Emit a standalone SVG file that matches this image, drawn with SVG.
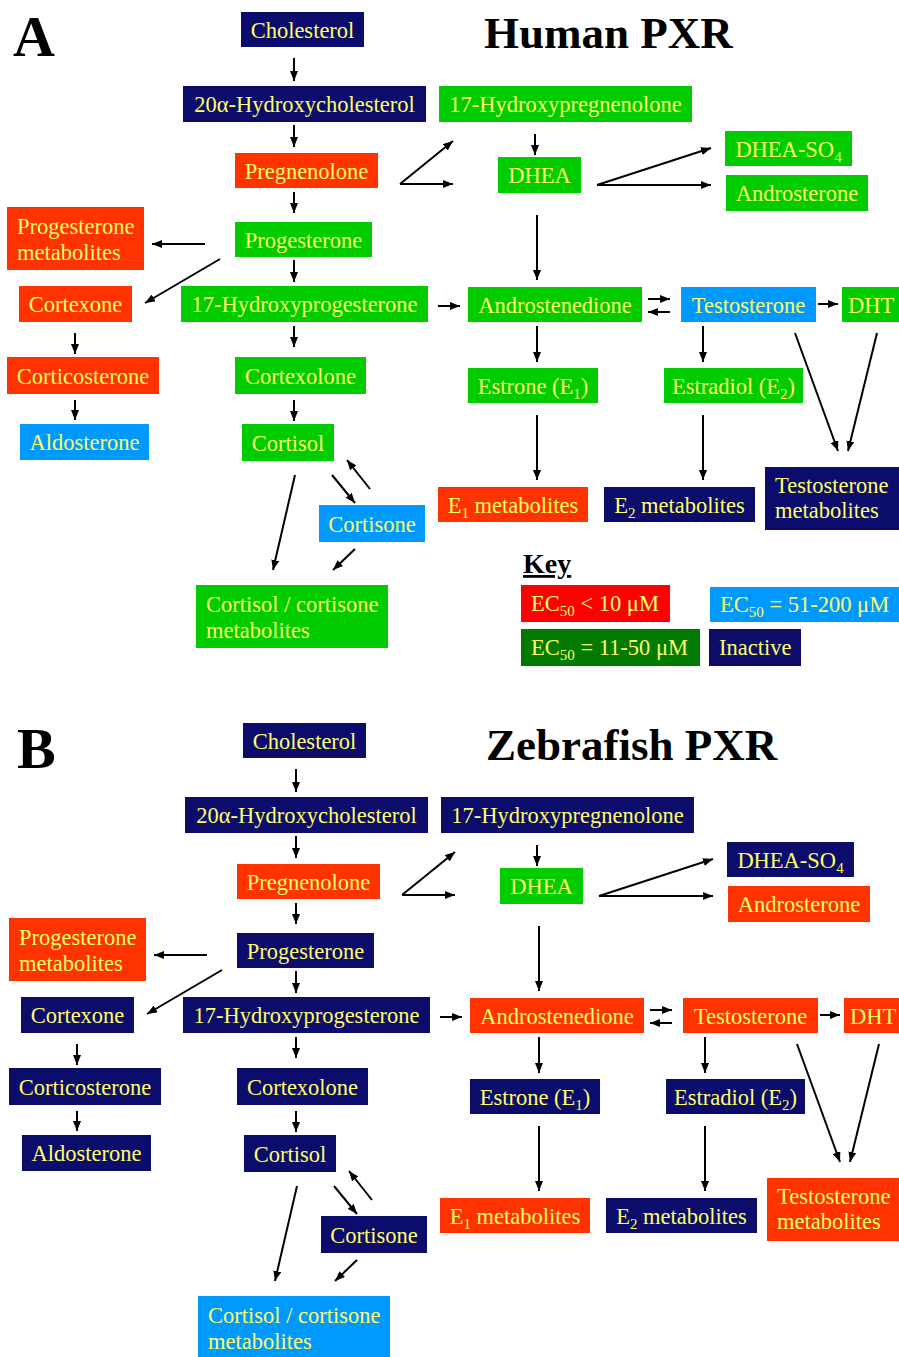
<svg xmlns="http://www.w3.org/2000/svg" width="899" height="1357" viewBox="0 0 899 1357">
<style>
.navy{fill:#0c0c6c}.orange{fill:#ff3300}.green{fill:#00cc00}.blue{fill:#0099ff}.red{fill:#ff0000}.dgreen{fill:#007a00}
text{font-family:"Liberation Serif","Times New Roman",serif}
.t{font-size:22.5px;fill:#ffff66}
.m{text-anchor:middle}
.h{font-weight:bold;fill:#000}
.c line{stroke:#000;stroke-width:2;fill:none;marker-end:url(#ah)}
</style>
<defs>
<marker id="ah" markerUnits="userSpaceOnUse" markerWidth="10" markerHeight="8" refX="10" refY="4" orient="auto"><path d="M0,0 L10,4 L0,8 z" fill="#000"/></marker>
</defs>
<rect width="899" height="1357" fill="#fff"/>

<g id="panelA">
<text class="h" x="13" y="56" font-size="58">A</text>
<text class="h" x="484" y="48" font-size="45">Human PXR</text>
<g class="c" id="connectorsA">
<line x1="294" y1="58" x2="294" y2="81"/>
<line x1="294" y1="125" x2="294" y2="147"/>
<line x1="294" y1="192" x2="294" y2="213"/>
<line x1="294" y1="260" x2="294" y2="282"/>
<line x1="205" y1="244" x2="152" y2="244"/>
<line x1="220" y1="259" x2="145" y2="303"/>
<line x1="400" y1="184" x2="453" y2="141"/>
<line x1="400" y1="184" x2="453" y2="184"/>
<line x1="535" y1="134" x2="535" y2="155"/>
<line x1="597" y1="185" x2="711" y2="148"/>
<line x1="597" y1="185" x2="711" y2="185"/>
<line x1="537" y1="215" x2="537" y2="280"/>
<line x1="438" y1="306" x2="460" y2="306"/>
<line x1="648" y1="299" x2="670" y2="299"/>
<line x1="670" y1="312" x2="648" y2="312"/>
<line x1="818" y1="304" x2="838" y2="304"/>
<line x1="75" y1="333" x2="75" y2="354"/>
<line x1="75" y1="400" x2="75" y2="420"/>
<line x1="294" y1="326" x2="294" y2="347"/>
<line x1="294" y1="400" x2="294" y2="421"/>
<line x1="295" y1="475" x2="273" y2="570"/>
<line x1="332" y1="475" x2="355" y2="503"/>
<line x1="370" y1="489" x2="347" y2="460"/>
<line x1="355" y1="549" x2="333" y2="570"/>
<line x1="537" y1="326" x2="537" y2="362"/>
<line x1="703" y1="326" x2="703" y2="362"/>
<line x1="537" y1="415" x2="537" y2="480"/>
<line x1="703" y1="415" x2="703" y2="480"/>
<line x1="795" y1="333" x2="838" y2="451"/>
<line x1="877" y1="333" x2="848" y2="451"/>
</g>
<g id="a-cholesterol"><rect class="navy" x="241" y="12" width="123" height="35"/><text class="t m" x="302.5" y="37.5">Cholesterol</text></g>
<g id="a-hydroxycholesterol"><rect class="navy" x="183" y="86" width="243" height="36"/><text class="t m" x="304.5" y="112">20α-Hydroxycholesterol</text></g>
<g id="a-hydroxypregnenolone"><rect class="green" x="439" y="86" width="253" height="36"/><text class="t m" x="565.5" y="112">17-Hydroxypregnenolone</text></g>
<g id="a-pregnenolone"><rect class="orange" x="235" y="153" width="143" height="35"/><text class="t m" x="306.5" y="178.5">Pregnenolone</text></g>
<g id="a-dhea"><rect class="green" x="498" y="157" width="83" height="36"/><text class="t m" x="539.5" y="183">DHEA</text></g>
<g id="a-dheaso4"><rect class="green" x="725" y="131" width="127" height="35"/><text class="t m" x="788.5" y="156.5">DHEA-SO<tspan font-size="15" dy="5">4</tspan></text></g>
<g id="a-androsterone"><rect class="green" x="726" y="175" width="142" height="36"/><text class="t m" x="797" y="201">Androsterone</text></g>
<g id="a-progmet"><rect class="orange" x="7" y="207" width="137" height="63"/><text class="t" x="17" y="234">Progesterone</text><text class="t" x="17" y="260">metabolites</text></g>
<g id="a-progesterone"><rect class="green" x="235" y="222" width="137" height="35"/><text class="t m" x="303.5" y="247.5">Progesterone</text></g>
<g id="a-cortexone"><rect class="orange" x="19" y="286" width="113" height="36"/><text class="t m" x="75.5" y="312">Cortexone</text></g>
<g id="a-ohprogesterone"><rect class="green" x="181" y="286" width="247" height="36"/><text class="t m" x="304.5" y="312">17-Hydroxyprogesterone</text></g>
<g id="a-androstenedione"><rect class="green" x="468" y="287" width="174" height="35"/><text class="t m" x="555" y="312.5">Androstenedione</text></g>
<g id="a-testosterone"><rect class="blue" x="681" y="287" width="135" height="35"/><text class="t m" x="748.5" y="312.5">Testosterone</text></g>
<g id="a-dht"><rect class="green" x="842" y="287" width="60" height="35"/><text class="t" x="848" y="312.5">DHT</text></g>
<g id="a-corticosterone"><rect class="orange" x="7" y="357" width="152" height="37"/><text class="t m" x="83" y="383.5">Corticosterone</text></g>
<g id="a-cortexolone"><rect class="green" x="235" y="357" width="131" height="37"/><text class="t m" x="300.5" y="383.5">Cortexolone</text></g>
<g id="a-estrone"><rect class="green" x="468" y="368" width="130" height="35"/><text class="t m" x="533" y="393.5">Estrone (E<tspan font-size="15" dy="5">1</tspan><tspan dy="-5">)</tspan></text></g>
<g id="a-estradiol"><rect class="green" x="664" y="368" width="139" height="35"/><text class="t m" x="733.5" y="393.5">Estradiol (E<tspan font-size="15" dy="5">2</tspan><tspan dy="-5">)</tspan></text></g>
<g id="a-aldosterone"><rect class="blue" x="20" y="424" width="129" height="36"/><text class="t m" x="84.5" y="450">Aldosterone</text></g>
<g id="a-cortisol"><rect class="green" x="242" y="424" width="92" height="37"/><text class="t m" x="288" y="450.5">Cortisol</text></g>
<g id="a-e1met"><rect class="orange" x="438" y="487" width="150" height="35"/><text class="t m" x="513" y="512.5">E<tspan font-size="15" dy="5">1</tspan><tspan dy="-5"> metabolites</tspan></text></g>
<g id="a-e2met"><rect class="navy" x="604" y="487" width="151" height="35"/><text class="t m" x="679.5" y="512.5">E<tspan font-size="15" dy="5">2</tspan><tspan dy="-5"> metabolites</tspan></text></g>
<g id="a-testmet"><rect class="navy" x="765" y="467" width="140" height="63"/><text class="t" x="775" y="493">Testosterone</text><text class="t" x="775" y="518">metabolites</text></g>
<g id="a-cortisone"><rect class="blue" x="319" y="505" width="106" height="37"/><text class="t m" x="372" y="531.5">Cortisone</text></g>
<g id="a-cortmet"><rect class="green" x="196" y="585" width="192" height="63"/><text class="t" x="206" y="612">Cortisol / cortisone</text><text class="t" x="206" y="638">metabolites</text></g>
<g id="key">
<text class="h" x="523" y="573" font-size="28" text-decoration="underline">Key</text>
<g id="key-red"><rect class="red" x="521" y="585" width="149" height="37"/><text class="t" x="531" y="611">EC<tspan font-size="15" dy="5">50</tspan><tspan dy="-5"> &lt; 10 μM</tspan></text></g>
<g id="key-blue"><rect class="blue" x="710" y="587" width="195" height="35"/><text class="t" x="720" y="612">EC<tspan font-size="15" dy="5">50</tspan><tspan dy="-5"> = 51-200 μM</tspan></text></g>
<g id="key-green"><rect class="dgreen" x="521" y="629" width="179" height="37"/><text class="t" x="531" y="655">EC<tspan font-size="15" dy="5">50</tspan><tspan dy="-5"> = 11-50 μM</tspan></text></g>
<g id="key-inactive"><rect class="navy" x="709" y="629" width="92" height="37"/><text class="t" x="719" y="655">Inactive</text></g>
</g>
</g>

<g id="panelB" transform="translate(2,711)">
<text class="h" x="15" y="57" font-size="58">B</text>
<text class="h" x="484" y="49" font-size="45">Zebrafish PXR</text>
<g class="c" id="connectorsB">
<line x1="294" y1="58" x2="294" y2="81"/>
<line x1="294" y1="125" x2="294" y2="147"/>
<line x1="294" y1="192" x2="294" y2="213"/>
<line x1="294" y1="260" x2="294" y2="282"/>
<line x1="205" y1="244" x2="152" y2="244"/>
<line x1="220" y1="259" x2="145" y2="303"/>
<line x1="400" y1="184" x2="453" y2="141"/>
<line x1="400" y1="184" x2="453" y2="184"/>
<line x1="535" y1="134" x2="535" y2="155"/>
<line x1="597" y1="185" x2="711" y2="148"/>
<line x1="597" y1="185" x2="711" y2="185"/>
<line x1="537" y1="215" x2="537" y2="280"/>
<line x1="438" y1="306" x2="460" y2="306"/>
<line x1="648" y1="299" x2="670" y2="299"/>
<line x1="670" y1="312" x2="648" y2="312"/>
<line x1="818" y1="304" x2="838" y2="304"/>
<line x1="75" y1="333" x2="75" y2="354"/>
<line x1="75" y1="400" x2="75" y2="420"/>
<line x1="294" y1="326" x2="294" y2="347"/>
<line x1="294" y1="400" x2="294" y2="421"/>
<line x1="295" y1="475" x2="273" y2="570"/>
<line x1="332" y1="475" x2="355" y2="503"/>
<line x1="370" y1="489" x2="347" y2="460"/>
<line x1="355" y1="549" x2="333" y2="570"/>
<line x1="537" y1="326" x2="537" y2="362"/>
<line x1="703" y1="326" x2="703" y2="362"/>
<line x1="537" y1="415" x2="537" y2="480"/>
<line x1="703" y1="415" x2="703" y2="480"/>
<line x1="795" y1="333" x2="838" y2="451"/>
<line x1="877" y1="333" x2="848" y2="451"/>
</g>
<g id="b-cholesterol"><rect class="navy" x="241" y="12" width="123" height="35"/><text class="t m" x="302.5" y="37.5">Cholesterol</text></g>
<g id="b-hydroxycholesterol"><rect class="navy" x="183" y="86" width="243" height="36"/><text class="t m" x="304.5" y="112">20α-Hydroxycholesterol</text></g>
<g id="b-hydroxypregnenolone"><rect class="navy" x="439" y="86" width="253" height="36"/><text class="t m" x="565.5" y="112">17-Hydroxypregnenolone</text></g>
<g id="b-pregnenolone"><rect class="orange" x="235" y="153" width="143" height="35"/><text class="t m" x="306.5" y="178.5">Pregnenolone</text></g>
<g id="b-dhea"><rect class="green" x="498" y="157" width="83" height="36"/><text class="t m" x="539.5" y="183">DHEA</text></g>
<g id="b-dheaso4"><rect class="navy" x="725" y="131" width="127" height="35"/><text class="t m" x="788.5" y="156.5">DHEA-SO<tspan font-size="15" dy="5">4</tspan></text></g>
<g id="b-androsterone"><rect class="orange" x="726" y="175" width="142" height="36"/><text class="t m" x="797" y="201">Androsterone</text></g>
<g id="b-progmet"><rect class="orange" x="7" y="207" width="137" height="63"/><text class="t" x="17" y="234">Progesterone</text><text class="t" x="17" y="260">metabolites</text></g>
<g id="b-progesterone"><rect class="navy" x="235" y="222" width="137" height="35"/><text class="t m" x="303.5" y="247.5">Progesterone</text></g>
<g id="b-cortexone"><rect class="navy" x="19" y="286" width="113" height="36"/><text class="t m" x="75.5" y="312">Cortexone</text></g>
<g id="b-ohprogesterone"><rect class="navy" x="181" y="286" width="247" height="36"/><text class="t m" x="304.5" y="312">17-Hydroxyprogesterone</text></g>
<g id="b-androstenedione"><rect class="orange" x="468" y="287" width="174" height="35"/><text class="t m" x="555" y="312.5">Androstenedione</text></g>
<g id="b-testosterone"><rect class="orange" x="681" y="287" width="135" height="35"/><text class="t m" x="748.5" y="312.5">Testosterone</text></g>
<g id="b-dht"><rect class="orange" x="842" y="287" width="60" height="35"/><text class="t" x="848" y="312.5">DHT</text></g>
<g id="b-corticosterone"><rect class="navy" x="7" y="357" width="152" height="37"/><text class="t m" x="83" y="383.5">Corticosterone</text></g>
<g id="b-cortexolone"><rect class="navy" x="235" y="357" width="131" height="37"/><text class="t m" x="300.5" y="383.5">Cortexolone</text></g>
<g id="b-estrone"><rect class="navy" x="468" y="368" width="130" height="35"/><text class="t m" x="533" y="393.5">Estrone (E<tspan font-size="15" dy="5">1</tspan><tspan dy="-5">)</tspan></text></g>
<g id="b-estradiol"><rect class="navy" x="664" y="368" width="139" height="35"/><text class="t m" x="733.5" y="393.5">Estradiol (E<tspan font-size="15" dy="5">2</tspan><tspan dy="-5">)</tspan></text></g>
<g id="b-aldosterone"><rect class="navy" x="20" y="424" width="129" height="36"/><text class="t m" x="84.5" y="450">Aldosterone</text></g>
<g id="b-cortisol"><rect class="navy" x="242" y="424" width="92" height="37"/><text class="t m" x="288" y="450.5">Cortisol</text></g>
<g id="b-e1met"><rect class="orange" x="438" y="487" width="150" height="35"/><text class="t m" x="513" y="512.5">E<tspan font-size="15" dy="5">1</tspan><tspan dy="-5"> metabolites</tspan></text></g>
<g id="b-e2met"><rect class="navy" x="604" y="487" width="151" height="35"/><text class="t m" x="679.5" y="512.5">E<tspan font-size="15" dy="5">2</tspan><tspan dy="-5"> metabolites</tspan></text></g>
<g id="b-testmet"><rect class="orange" x="765" y="467" width="140" height="63"/><text class="t" x="775" y="493">Testosterone</text><text class="t" x="775" y="518">metabolites</text></g>
<g id="b-cortisone"><rect class="navy" x="319" y="505" width="106" height="37"/><text class="t m" x="372" y="531.5">Cortisone</text></g>
<g id="b-cortmet"><rect class="blue" x="196" y="585" width="192" height="63"/><text class="t" x="206" y="612">Cortisol / cortisone</text><text class="t" x="206" y="638">metabolites</text></g>
</g>
</svg>
